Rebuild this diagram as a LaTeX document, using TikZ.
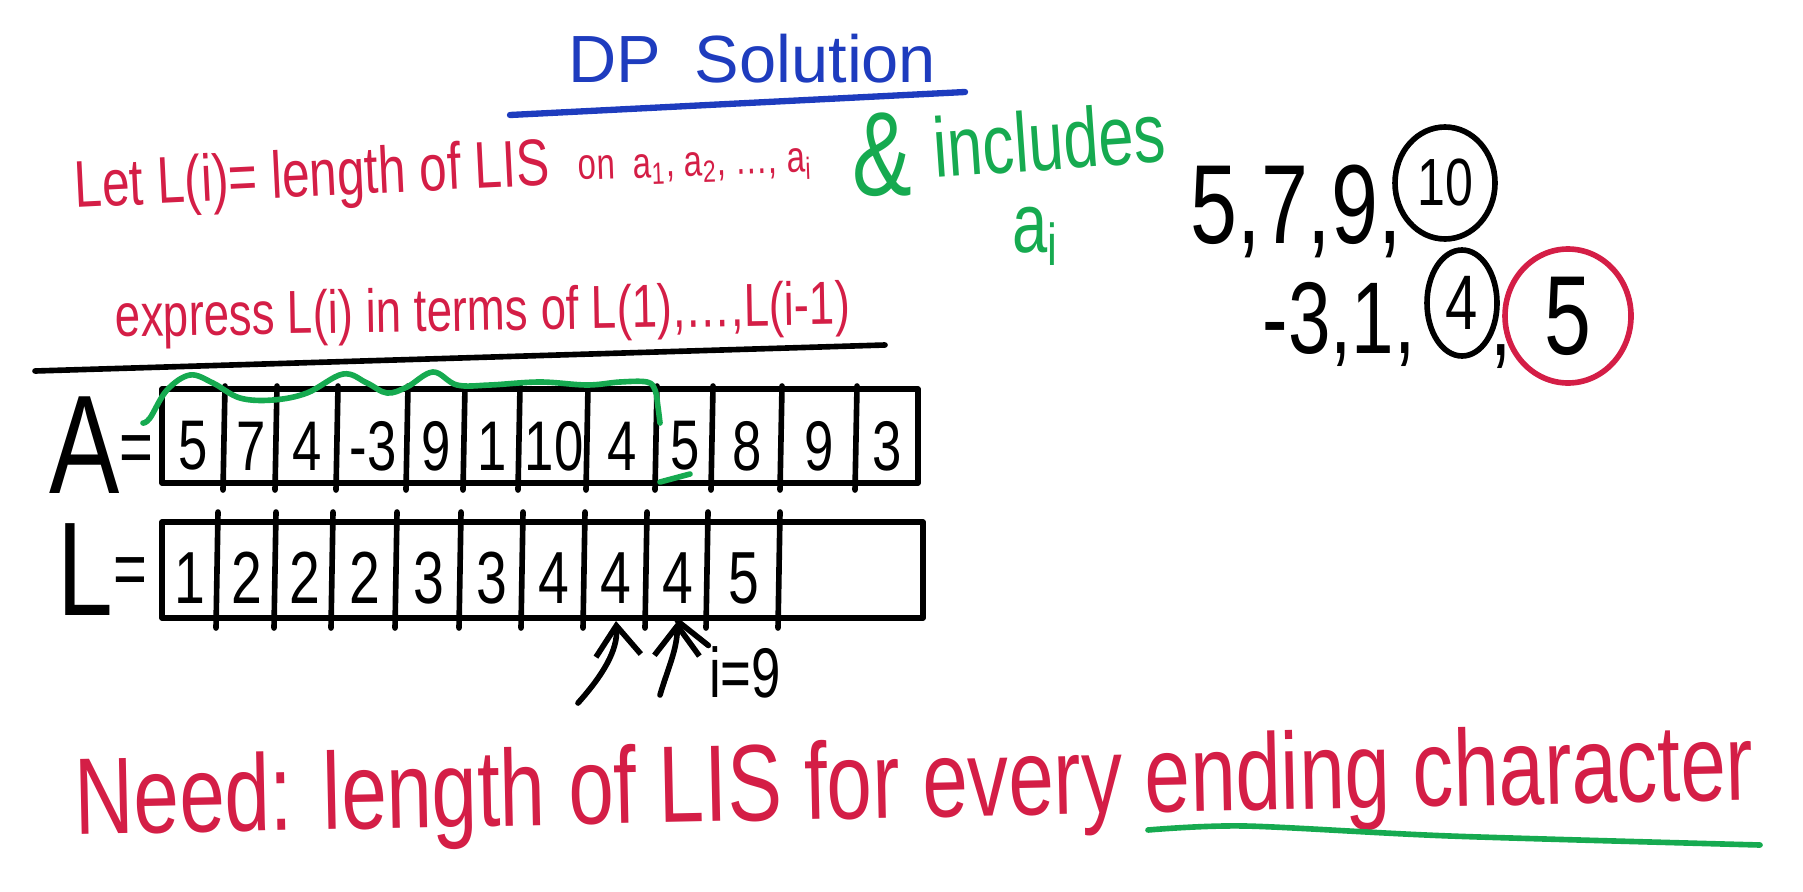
\documentclass[tikz,border=0pt]{standalone}
\usepackage{fontspec}
\setmainfont{Liberation Sans}
\newfontfamily\handfont[FakeStretch=0.75]{Liberation Sans}
\usetikzlibrary{positioning,arrows.meta}
\definecolor{penred}{RGB}{212,30,70}
\definecolor{pengreen}{RGB}{22,170,80}
\definecolor{penblue}{RGB}{30,60,190}
\newcommand\penfont[1]{\handfont\fontsize{#1}{#1}\selectfont}

\begin{document}
\begin{tikzpicture}[x=0.1mm,y=-0.1mm,
  ink/.style={line width=1.6pt,line cap=round,line join=round},
  txt/.style={inner sep=0pt,anchor=base west},
  rtxt/.style={txt,text=penred},
  gtxt/.style={txt,text=pengreen},
  cellnum/.style={inner sep=0pt,font=\penfont{20}},
  lnum/.style={inner sep=0pt,font=\penfont{21}},
  >={Straight Barb[length=3mm,width=4.5mm]},
]
\useasboundingbox (0,0) rectangle (1803,891);

% title
\node[txt,text=penblue,font=\fontsize{19}{19}\selectfont] (title) at (568,82) {DP\hspace{0.5em}Solution};
\draw[ink,penblue,line width=1.8pt] (510,115) -- (965,92);

% definition
\node[rtxt,font=\penfont{18.8},rotate=2.8] (def) at (75,208) {Let L(i)= length of LIS};
\node[rtxt,font=\penfont{12.5},rotate=2] (range) at (578,180)
  {on\ \ a\textsubscript{1}, a\textsubscript{2}, \dots, a\textsubscript{i}};
\node[gtxt,font=\penfont{34}] (amp) at (852,195) {\&};
\node[gtxt,font=\penfont{24},rotate=4] (incl) at (935,178) {includes};
\node[gtxt,font=\penfont{24}] (ai) at (1012,252) {a\textsubscript{i}};

\node[rtxt,font=\penfont{17.3},rotate=1] (expr) at (115,337)
  {express L(i) in terms of L(1),\dots,L(i-1)};
\draw[ink] (35,371) -- (885,345);

% example subsequences
\node[txt,font=\penfont{32}] (seqa) at (1190,243) {5,7,9,};
\node[inner sep=0pt,font=\penfont{19}] (ten) at (1445,183) {10};
\draw[ink] (ten.center) ellipse [x radius=50, y radius=56];
\node[txt,font=\penfont{29}] (seqb) at (1262,353) {-3,1,};
\node[inner sep=0pt,font=\penfont{22}] (four) at (1462,303) {4};
\draw[ink] (four.center) ellipse [x radius=35, y radius=53];
\node[txt,font=\penfont{29}] (comma) at (1490,355) {,};
\node[inner sep=0pt,font=\penfont{32}] (five) at (1568,316) {5};
\draw[ink,penred] (five.center) ellipse [x radius=63, y radius=67];

% array A
\node[font=\penfont{40},anchor=east,inner sep=0pt] (alabel) at (154,445) {A\raisebox{2mm}{\penfont{22}=}};
\draw[ink] (162,389) rectangle (918,483);
\foreach \x in {225,277,338,408,465,520,588,657,713,782,857}
  \draw[ink] (\x,386) -- (\x-2,490);
\foreach \l/\r/\v [count=\i] in {162/225/5,225/277/7,277/338/4,338/408/-3,408/465/9,465/520/1,
    520/588/10,588/657/4,657/713/5,713/782/8,782/857/9,857/918/3}
  \node[cellnum] (a\i) at ({(\l+\r)/2},446) {\v};

% green wave over the prefix
\draw[ink,pengreen] plot[smooth,tension=0.6] coordinates {(143,423) (150,418) (167,390) (190,375)
  (213,383) (240,398) (273,400) (307,393) (343,374) (367,383) (387,393) (407,387) (433,372)
  (457,385) (490,385) (540,382) (587,385) (620,382) (647,382) (655,390) (658,407) (660,423)};
\draw[ink,pengreen] (660,482) -- (690,474);

% array L
\node[font=\penfont{38},anchor=east,inner sep=0pt] (llabel) at (148,570) {L\raisebox{2mm}{\penfont{22}=}};
\draw[ink] (162,522) rectangle (923,618);
\foreach \x in {218,276,333,397,461,523,585,647,708,780}
  \draw[ink] (\x,512) -- (\x-2,628);
\foreach \l/\r/\v [count=\i] in {162/218/1,218/276/2,276/333/2,333/397/2,397/461/3,461/523/3,
    523/585/4,585/647/4,647/708/4,708/780/5}
  {\node[lnum] (l\i) at ({(\l+\r)/2},578) {\v};
   \coordinate (lb\i) at ({(\l+\r)/2},621);}

% pointers
\coordinate (t1) at (578,703);
\coordinate (t2) at (660,695);
\draw[ink,->] (t1) .. controls (603,675) and (618,650) .. (lb8);
\draw[ink,->] (t2) .. controls (668,668) and (677,650) .. (lb9);
\node[font=\penfont{20},inner sep=0pt] (inine) at (745,672) {i=9};
\draw[ink] (inine.north west) -- (lb9);

% conclusion
\node[rtxt,font=\penfont{31},rotate=1.2] (need) at (75,835) {Need: length of LIS for every ending character};
\draw[ink,pengreen] plot[smooth] coordinates {(1148,830) (1245,826) (1450,836) (1760,845)};
\end{tikzpicture}
\end{document}
